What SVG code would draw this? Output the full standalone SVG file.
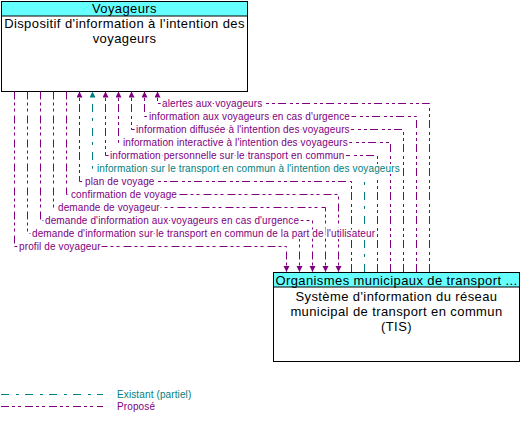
<svg xmlns="http://www.w3.org/2000/svg" width="529" height="424" viewBox="0 0 529 424">
<style>
.box{fill:#fff;stroke:#000;stroke-width:1}
.hdr{fill:#66ffff;stroke:#000;stroke-width:1}
.t13{font-family:"Liberation Sans",Arial,sans-serif;font-size:13px;letter-spacing:0.4px;fill:#000;text-anchor:middle}
.c{fill:none;stroke-width:1}
.p{stroke:#800080;stroke-dasharray:8 3 3 3 3 4}
.e{stroke:#008080;stroke-dasharray:8 7 3 6}
.lbl{font-family:"Liberation Sans",Arial,sans-serif;font-size:10px;letter-spacing:0.12px;stroke:#fff;stroke-width:4;stroke-linejoin:round;paint-order:stroke}
.lp{fill:#800080}
.le{fill:#008080}
.lg{font-family:"Liberation Sans",Arial,sans-serif;font-size:10px;letter-spacing:0.12px}
</style>
<defs>
<marker id="ap" markerUnits="userSpaceOnUse" markerWidth="8" markerHeight="8" refX="6" refY="3" orient="auto"><path d="M0,0 L6,3 L0,6 z" fill="#800080"/></marker>
<marker id="ae" markerUnits="userSpaceOnUse" markerWidth="8" markerHeight="8" refX="6" refY="3" orient="auto"><path d="M0,0 L6,3 L0,6 z" fill="#008080"/></marker>
</defs>
<g id="voyageurs">
<rect class="box" x="1.5" y="1.5" width="246" height="90"/>
<rect class="hdr" x="1.5" y="1.5" width="246" height="14.5"/>
<text class="t13" x="124.5" y="13">Voyageurs</text>
<text class="t13" x="124.5" y="28">Dispositif d'information à l'intention des</text>
<text class="t13" x="124.5" y="43">voyageurs</text>
</g>
<g id="tis">
<rect class="box" x="273.5" y="272.5" width="246" height="89"/>
<rect class="hdr" x="273.5" y="272.5" width="246" height="14.5"/>
<text class="t13" x="396.5" y="284.5">Organismes municipaux de transport ...</text>
<text class="t13" x="396.5" y="300.5">Système d'information du réseau</text>
<text class="t13" x="396.5" y="315.5">municipal de transport en commun</text>
<text class="t13" x="396.5" y="330.5">(TIS)</text>
</g>
<g id="connectors">
<path class="c p" d="M429.5,272 V103.5 H157.5 V91.5" marker-end="url(#ap)"/>
<path class="c p" d="M416.5,272 V116.5 H144.5 V91.5" marker-end="url(#ap)"/>
<path class="c p" d="M403.5,272 V129.5 H131.5 V91.5" marker-end="url(#ap)"/>
<path class="c p" d="M390.5,272 V142.5 H118.5 V91.5" marker-end="url(#ap)"/>
<path class="c p" d="M377.5,272 V155.5 H105.5 V91.5" marker-end="url(#ap)"/>
<path class="c e" d="M364.5,272 V168.5 H92.5 V91.5" marker-end="url(#ae)"/>
<path class="c p" d="M351.5,272 V181.5 H79.5 V91.5" marker-end="url(#ap)"/>
<path class="c p" d="M66.5,91.5 V194.5 H338.5 V272" marker-end="url(#ap)"/>
<path class="c p" d="M53.5,91.5 V207.5 H325.5 V272" marker-end="url(#ap)"/>
<path class="c p" d="M40.5,91.5 V220.5 H312.5 V272" marker-end="url(#ap)"/>
<path class="c p" d="M27.5,91.5 V233.5 H299.5 V272" marker-end="url(#ap)"/>
<path class="c p" d="M14.5,91.5 V246.5 H286.5 V272" marker-end="url(#ap)"/>
<text class="lbl lp" x="162" y="107">alertes aux voyageurs</text>
<text class="lbl lp" x="149" y="120">information aux voyageurs en cas d'urgence</text>
<text class="lbl lp" x="136" y="133">information diffusée à l'intention des voyageurs</text>
<text class="lbl lp" x="123" y="146">information interactive à l'intention des voyageurs</text>
<text class="lbl lp" x="110" y="159">information personnelle sur le transport en commun</text>
<text class="lbl le" x="97" y="172">information sur le transport en commun à l'intention des voyageurs</text>
<text class="lbl lp" x="85" y="185">plan de voyage</text>
<text class="lbl lp" x="71" y="198">confirmation de voyage</text>
<text class="lbl lp" x="58" y="211">demande de voyageur</text>
<text class="lbl lp" x="45" y="224">demande d'information aux voyageurs en cas d'urgence</text>
<text class="lbl lp" x="32" y="237">demande d'information sur le transport en commun de la part de l'utilisateur</text>
<text class="lbl lp" x="19" y="250">profil de voyageur</text>
</g>
<g id="legend">
<path class="c e" d="M1,394.5 H103"/>
<path class="c p" d="M1,406.5 H103"/>
<text class="lg le" x="117" y="398">Existant (partiel)</text>
<text class="lg lp" x="117" y="410">Proposé</text>
</g>
</svg>
